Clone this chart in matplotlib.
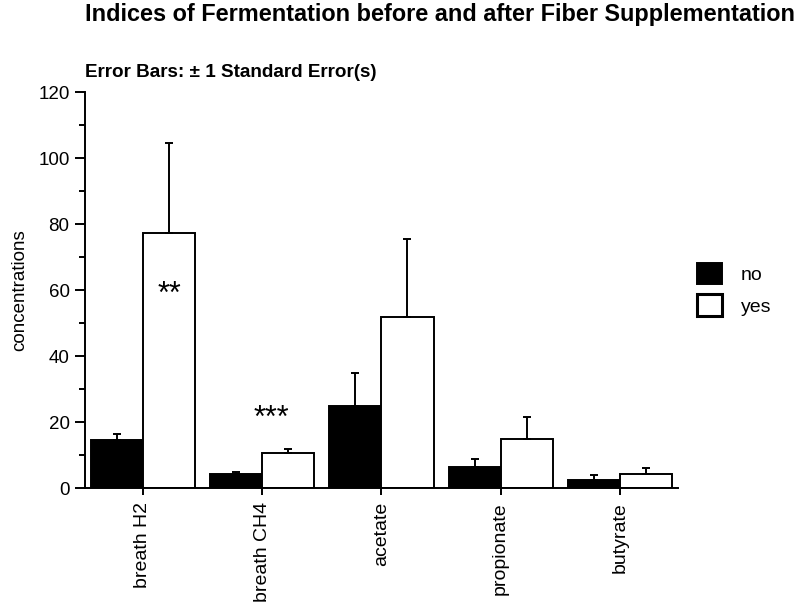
import matplotlib
matplotlib.use("Agg")
import matplotlib.pyplot as plt
from matplotlib.patches import Patch
import numpy as np

categories = ["breath H2", "breath CH4", "acetate", "propionate", "butyrate"]
no_vals = [14.5, 4.4, 24.9, 6.4, 2.6]
no_err = [1.9, 0.5, 10.1, 2.6, 1.3]
yes_vals = [77.5, 10.8, 51.8, 14.9, 4.3]
yes_err = [27.0, 1.0, 23.7, 6.8, 1.9]
series_labels = ["no", "yes"]
yticks = [0, 20, 40, 60, 80, 100, 120]

plt.rcParams['font.family'] = ['Liberation Sans', 'DejaVu Sans']

fig = plt.figure(figsize=(8, 6.12), dpi=100)
ax = fig.add_axes([0.106, 0.2021, 0.7415, 0.647])

x = np.arange(len(categories))
w = 0.437
ekw = dict(elinewidth=1.4, capthick=1.4, ecolor='black')
ax.bar(x - w/2, no_vals, w, color='black', edgecolor='black', linewidth=1.4,
       yerr=[np.zeros(len(no_err)), no_err], capsize=3, error_kw=ekw, label=series_labels[0])
ax.bar(x + w/2, yes_vals, w, color='white', edgecolor='black', linewidth=1.4,
       yerr=[np.zeros(len(yes_err)), yes_err], capsize=3, error_kw=ekw, label=series_labels[1])

ax.text(x[0] + w/2, 58.5, "**", ha='center', va='center', fontsize=22)
ax.text(x[1] + 0.076, 21.0, "***", ha='center', va='center', fontsize=22)

ax.set_xlim(-0.487, len(categories) - 1 + 0.487)
ax.set_ylim(0, 120)
ax.set_yticks(yticks)
ax.set_yticks(np.arange(0, 121, 10), minor=True)
ax.set_yticklabels([str(t) for t in yticks], fontsize=13.5)
ax.set_xticks(x)
ax.set_xticklabels(categories, rotation=90, fontsize=14)
ax.tick_params(axis='y', which='major', length=7, width=1.4, direction='out', pad=4)
ax.tick_params(axis='y', which='minor', length=4, width=1.4, direction='out')
ax.tick_params(axis='x', which='major', length=5, width=1.4, direction='out', pad=5)
for s in ['top', 'right']:
    ax.spines[s].set_visible(False)
for s in ['left', 'bottom']:
    ax.spines[s].set_linewidth(1.4)
ax.set_ylabel("concentrations", fontsize=13.5, labelpad=7)

handles = [Patch(facecolor='black', edgecolor='black', linewidth=1.4),
           Patch(facecolor='white', edgecolor='black', linewidth=2.2)]
ax.legend(handles, series_labels, loc='center left', bbox_to_anchor=(1.019, 0.503),
          frameon=False, fontsize=14, handlelength=1.3, handleheight=1.3,
          handletextpad=0.95, labelspacing=0.55, borderaxespad=0)

fig.text(0.106, 0.977, "Indices of Fermentation before and after Fiber Supplementation",
         fontsize=16.9, fontweight='bold', ha='left', va='center')
fig.text(0.106, 0.881, "Error Bars: \u00b1 1 Standard Error(s)",
         fontsize=13.6, fontweight='bold', ha='left', va='center')

fig.savefig("out.png", dpi=100)
